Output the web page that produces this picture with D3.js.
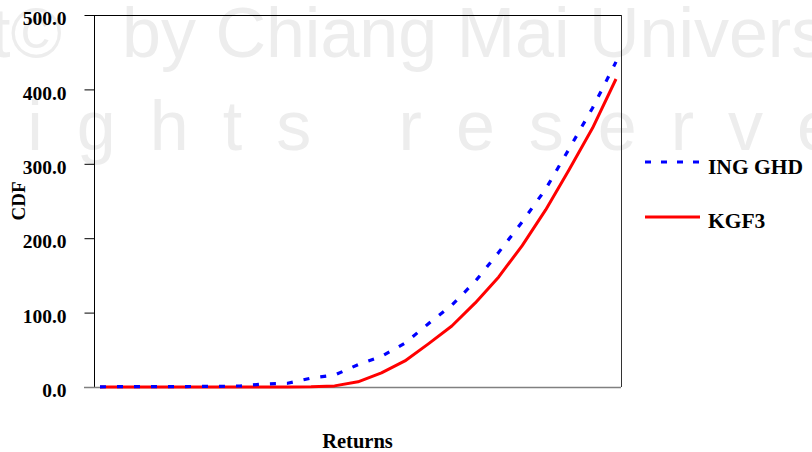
<!DOCTYPE html>
<html><head><meta charset="utf-8">
<script src="https://cdn.jsdelivr.net/npm/d3@7"></script>
<style>
html,body{margin:0;padding:0;background:#fff;}
svg{display:block;}
text{font-family:"Liberation Serif","Times New Roman",serif;}
</style></head>
<body>
<svg id="chart" width="812" height="452"></svg>
<script>
const categories = d3.range(1, 24);
const ingGhd = [0.3,0.4,0.5,0.5,0.7,0.8,1.5,4,5,12,16,30,41,59,85,110,142,181,222,266,320,375,437];
const kgf3   = [0,0,0,0,0,0,0,0,0,0.3,1.5,7,19,35,58,82,113,148,190,238,292,348,414];
const yTicks = [0,100,200,300,400,500];
const seriesNames = ["ING GHD","KGF3"];

(function(){
const svg = d3.select("#chart");
const sans = "'Liberation Sans',Arial,sans-serif";

// watermark
const wm = svg.append("g").attr("fill","#ededed").style("font-size","70px");
wm.append("text").attr("x",62).attr("y",57).attr("text-anchor","end").style("font-family",sans).text("Copyright©");
wm.append("text").attr("x",122).attr("y",57).style("font-family",sans).text("by Chiang Mai University");
wm.append("text").attr("x",-30).attr("y",150).attr("letter-spacing",34).style("font-family",sans).text("rights reserved");

const pl = 94, pr = 621, pt = 15, pb = 387;
const x = d3.scalePoint().domain(categories).range([100, 616]);
const y = d3.scaleLinear().domain([0,500]).range([pb, pt]);

// frame
svg.append("line").attr("x1",pl).attr("x2",pr).attr("y1",pt+0.5).attr("y2",pt+0.5).attr("stroke","#000");
svg.append("line").attr("x1",pr+0.5).attr("x2",pr+0.5).attr("y1",pt).attr("y2",pb).attr("stroke","#333");

const yAxis = d3.axisLeft(y).tickValues(yTicks).tickSize(10).tickPadding(18).tickFormat(d3.format(".1f"));
const gy = svg.append("g").attr("transform",`translate(${pl+0.5},0)`).call(yAxis);
gy.select(".domain").attr("stroke","#000").attr("d",`M0,${pt}V${pb}`);
gy.selectAll(".tick line").attr("stroke","#000");
gy.selectAll(".tick text").attr("fill","#000").attr("dy","0.5em").style("font-size","19.5px").style("font-weight","bold").style("font-family","'Liberation Serif','Times New Roman',serif");

// bottom axis line
svg.append("line").attr("x1",84).attr("x2",pr).attr("y1",pb+0.5).attr("y2",pb+0.5).attr("stroke","#808080").attr("stroke-width",1.5);

const line = d3.line().x((d,i)=>x(categories[i])).y(d=>y(d));
svg.append("path").datum(kgf3).attr("d",line).attr("fill","none").attr("stroke","#ff0000").attr("stroke-width",3).attr("stroke-linejoin","round");
svg.append("path").datum(ingGhd).attr("d",line).attr("fill","none").attr("stroke","#0000ff").attr("stroke-width",3.2).attr("stroke-dasharray","6,11");

// legend
const leg = [{n:seriesNames[0],c:"#0000ff",dash:"6,10",y:162,ty:174},{n:seriesNames[1],c:"#ff0000",dash:null,y:217,ty:228}];
leg.forEach(l=>{
  svg.append("line").attr("x1",645).attr("x2",700).attr("y1",l.y).attr("y2",l.y).attr("stroke",l.c).attr("stroke-width",3.2).attr("stroke-dasharray",l.dash);
  svg.append("text").attr("x",708).attr("y",l.ty).style("font-size","21.5px").style("font-weight","bold").text(l.n);
});

// axis titles
svg.append("text").attr("x",357.5).attr("y",448).attr("text-anchor","middle").style("font-size","20.5px").style("font-weight","bold").text("Returns");
svg.append("text").attr("transform","translate(25,201) rotate(-90)").attr("text-anchor","middle").style("font-size","19px").style("font-weight","bold").text("CDF");
})();
</script>
</body></html>
